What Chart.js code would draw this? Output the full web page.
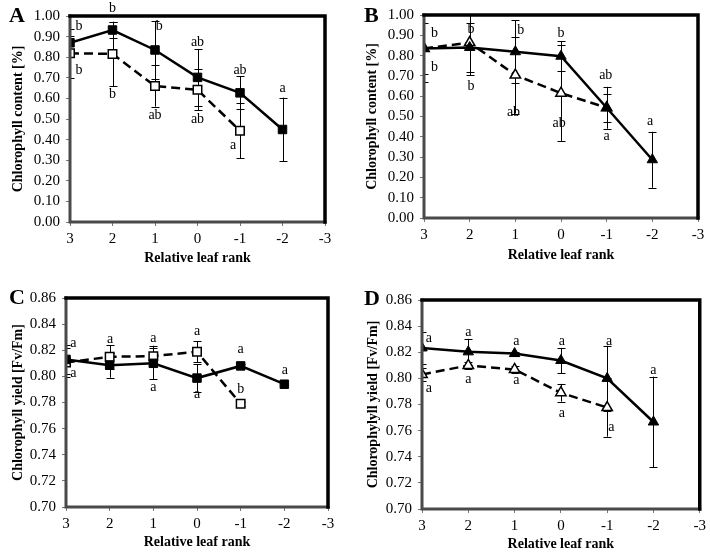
<!DOCTYPE html>
<html>
<head>
<meta charset="utf-8">
<script src="https://cdn.jsdelivr.net/npm/chart.js@4.4.0/dist/chart.umd.min.js"></script>
<style>
  body { margin: 0; background: #fff; width: 710px; height: 553px; position: relative; overflow: hidden; }
  canvas { position: absolute; }
  .tag { position: absolute; font: bold 22px "Liberation Serif", serif; color: #000; }
</style>
</head>
<body>
<canvas id="chartA" width="345" height="270" style="left:0;top:0"></canvas>
<canvas id="chartB" width="355" height="270" style="left:355px;top:0"></canvas>
<canvas id="chartC" width="345" height="273" style="left:0;top:280px"></canvas>
<canvas id="chartD" width="355" height="273" style="left:355px;top:280px"></canvas>
<div class="tag" style="left:9px;top:2px">A</div>
<div class="tag" style="left:364px;top:2px">B</div>
<div class="tag" style="left:9px;top:284px">C</div>
<div class="tag" style="left:364px;top:285px">D</div>
<script>
// relative leaf ranks
const ranks = [3, 2, 1, 0, -1, -2];
const ranksShort = [3, 2, 1, 0, -1];

// A - chlorophyll content, squares
const aSolid = [0.870, 0.932, 0.835, 0.702, 0.627, 0.449];
const aSolidErr = [0.035, 0.040, 0.140, 0.138, 0.080, 0.155];
const aDashed = [0.819, 0.816, 0.660, 0.642, 0.443];
const aDashedErr = [0.120, 0.156, 0.100, 0.100, 0.133];
const aLetters = ['b', 'b', 'b', 'b', 'b', 'ab', 'ab', 'ab', 'ab', 'a', 'a'];
const aLetterRank = [2.79, 2.79, 2, 2, 0.9, 1, 0, 0, -1, -0.84, -2];
const aLetterVal = [0.95, 0.738, 1.037, 0.62, 0.952, 0.52, 0.87, 0.50, 0.735, 0.37, 0.65];

// B - chlorophyll content, triangles
const bSolid = [0.835, 0.840, 0.819, 0.797, 0.543, 0.287];
const bSolidErr = [0.127, 0.120, 0.155, 0.073, 0.103, 0.138];
const bDashed = [0.835, 0.864, 0.704, 0.615, 0.543];
const bDashedErr = [0.165, 0.160, 0.190, 0.235, 0.070];
const bLetters = ['b', 'b', 'b', 'b', 'b', 'ab', 'b', 'ab', 'ab', 'a', 'a'];
const bLetterRank = [2.77, 2.77, 1.97, 1.97, 0.88, 1.04, 0, 0.04, -0.98, -1, -1.95];
const bLetterVal = [0.912, 0.744, 0.928, 0.65, 0.923, 0.52, 0.912, 0.468, 0.703, 0.40, 0.475];

// C - chlorophyll yield, squares
const cSolid = [0.8130, 0.8085, 0.8100, 0.7987, 0.8080, 0.7940];
const cSolidErr = [0.011, 0.0095, 0.012, 0.0105, 0.0015, 0.0015];
const cDashed = [0.8106, 0.8150, 0.8155, 0.8188, 0.7790];
const cDashedErr = [0.011, 0.009, 0.008, 0.008, 0.0015];
const cLetters = ['a', 'a', 'a', 'a', 'a', 'a', 'a', 'a', 'b', 'a'];
const cLetterRank = [2.83, 2.83, 1.99, 1, 1, 0, 0, -1, -1, -2.01];
const cLetterVal = [0.8255, 0.802, 0.8286, 0.8294, 0.7918, 0.8344, 0.786, 0.8204, 0.7903, 0.805];

// D - chlorophyll yield, triangles
const dSolid = [0.8233, 0.8203, 0.8190, 0.8137, 0.8000, 0.7666];
const dSolidErr = [0.012, 0.010, 0.0015, 0.0096, 0.025, 0.0347];
const dDashed = [0.8030, 0.8099, 0.8068, 0.7890, 0.7777];
const dDashedErr = [0.005, 0.0025, 0.003, 0.0068, 0.0223];
const dLetters = ['a', 'a', 'a', 'a', 'a', 'a', 'a', 'a', 'a', 'a', 'a'];
const dLetterRank = [2.85, 2.85, 2, 2, 0.96, 0.96, -0.02, -0.02, -1.04, -1.09, -2];
const dLetterVal = [0.8307, 0.7925, 0.835, 0.7994, 0.8287, 0.7984, 0.8287, 0.7733, 0.8287, 0.7627, 0.8065];

const serif = '"Liberation Serif", "Times New Roman", serif';

function points(xs, ys) {
    return xs.map((x, i) => ({ x: x, y: ys[i] }));
}

// error bars + significance letters + heavy frame
const panelPlugin = {
    id: 'panelDeco',
    beforeDatasetsDraw(chart, args, opts) {
        const { ctx, chartArea, scales: { x, y } } = chart;
        ctx.save();
        ctx.beginPath();
        ctx.rect(chartArea.left, chartArea.top, chartArea.width, chartArea.height);
        ctx.clip();
        ctx.strokeStyle = '#000';
        ctx.lineWidth = 1;
        opts.errors.forEach(e => {
            e.xs.forEach((r, i) => {
                const px = Math.round(x.getPixelForValue(r)) + 0.5;
                const hi = y.getPixelForValue(e.ys[i] + e.err[i]);
                const lo = y.getPixelForValue(e.ys[i] - e.err[i]);
                ctx.beginPath();
                ctx.moveTo(px, hi); ctx.lineTo(px, lo);
                ctx.moveTo(px - 4, Math.round(hi) + 0.5); ctx.lineTo(px + 4, Math.round(hi) + 0.5);
                ctx.moveTo(px - 4, Math.round(lo) + 0.5); ctx.lineTo(px + 4, Math.round(lo) + 0.5);
                ctx.stroke();
            });
        });
        ctx.restore();
    },
    afterDraw(chart, args, opts) {
        const { ctx, chartArea: a, scales: { x, y } } = chart;
        ctx.save();
        ctx.font = '14px ' + serif;
        ctx.fillStyle = '#000';
        ctx.textAlign = 'center';
        ctx.textBaseline = 'middle';
        opts.letters.forEach((t, i) => {
            ctx.fillText(t, x.getPixelForValue(opts.letterRank[i]), y.getPixelForValue(opts.letterVal[i]));
        });
        ctx.lineCap = 'square';
        ctx.lineWidth = 3;
        ctx.strokeStyle = '#4a4a4a';
        ctx.beginPath();
        ctx.moveTo(a.left, a.top); ctx.lineTo(a.left, a.bottom); ctx.lineTo(a.right, a.bottom);
        ctx.stroke();
        ctx.strokeStyle = '#000';
        ctx.lineWidth = 3.5;
        ctx.beginPath();
        ctx.moveTo(a.left, a.top); ctx.lineTo(a.right, a.top); ctx.lineTo(a.right, a.bottom);
        ctx.stroke();
        ctx.restore();
    }
};

function panel(id, p) {
    new Chart(document.getElementById(id), {
        type: 'line',
        data: {
            datasets: [{
                data: points(ranks, p.solid),
                borderColor: '#000',
                borderWidth: 2.5,
                backgroundColor: '#000',
                pointStyle: p.marker,
                pointRadius: 6,
                pointBorderWidth: 1,
                pointBackgroundColor: '#000',
                tension: 0
            }, {
                data: points(ranksShort, p.dashed),
                borderColor: '#000',
                borderWidth: 2.5,
                borderDash: [9, 5],
                pointStyle: p.marker,
                pointRadius: 6,
                pointBorderWidth: 1.5,
                pointBackgroundColor: '#fff',
                tension: 0
            }]
        },
        options: {
            responsive: false,
            animation: false,
            layout: { padding: { left: 0, top: p.top, right: p.right, bottom: 0 } },
            plugins: {
                legend: { display: false },
                tooltip: { enabled: false },
                panelDeco: {
                    errors: [
                        { xs: ranks, ys: p.solid, err: p.solidErr },
                        { xs: ranksShort, ys: p.dashed, err: p.dashedErr }
                    ],
                    letters: p.letters, letterRank: p.letterRank, letterVal: p.letterVal
                }
            },
            scales: {
                x: {
                    type: 'linear',
                    reverse: true,
                    min: -3, max: 3,
                    afterFit: s => { s.height = p.xh; },
                    ticks: { stepSize: 1, autoSkip: false, padding: 4, color: '#000', font: { family: serif, size: 15 } },
                    grid: { drawOnChartArea: false, tickLength: 4, color: '#777' },
                    border: { display: false },
                    title: {
                        display: true, text: 'Relative leaf rank', color: '#000',
                        font: { family: serif, size: 14, weight: 'bold' },
                        padding: { top: 0, bottom: p.xpad }
                    }
                },
                y: {
                    min: p.ymin, max: p.ymax,
                    afterFit: s => { s.width = p.yw; },
                    ticks: {
                        stepSize: p.step, autoSkip: false, maxTicksLimit: 30, padding: 6, color: '#000',
                        font: { family: serif, size: 15 },
                        callback: v => v.toFixed(2)
                    },
                    grid: { drawOnChartArea: false, tickLength: 4, color: '#777' },
                    border: { display: false },
                    title: {
                        display: true, text: p.ytitle, color: '#000',
                        font: { family: serif, size: 14, weight: 'bold' },
                        padding: { top: p.ypad, bottom: 4 }
                    }
                }
            }
        },
        plugins: [panelPlugin]
    });
}

panel('chartA', {
    solid: aSolid, solidErr: aSolidErr, dashed: aDashed, dashedErr: aDashedErr,
    letters: aLetters, letterRank: aLetterRank, letterVal: aLetterVal,
    marker: 'rect', ymin: 0, ymax: 1, step: 0.1, ytitle: 'Chlorophyll content [%]',
    top: 16, right: 20, xh: 48, yw: 70, xpad: 3, ypad: 10
});
panel('chartB', {
    solid: bSolid, solidErr: bSolidErr, dashed: bDashed, dashedErr: bDashedErr,
    letters: bLetters, letterRank: bLetterRank, letterVal: bLetterVal,
    marker: 'triangle', ymin: 0, ymax: 1, step: 0.1, ytitle: 'Chlorophyll content [%]',
    top: 10, right: 12, xh: 52, yw: 69, xpad: 6, ypad: 9
});
panel('chartC', {
    solid: cSolid, solidErr: cSolidErr, dashed: cDashed, dashedErr: cDashedErr,
    letters: cLetters, letterRank: cLetterRank, letterVal: cLetterVal,
    marker: 'rect', ymin: 0.70, ymax: 0.86, step: 0.02, ytitle: 'Chlorophyll yield [Fv/Fm]',
    top: 18, right: 17, xh: 46, yw: 66, xpad: 2, ypad: 10
});
panel('chartD', {
    solid: dSolid, solidErr: dSolidErr, dashed: dDashed, dashedErr: dDashedErr,
    letters: dLetters, letterRank: dLetterRank, letterVal: dLetterVal,
    marker: 'triangle', ymin: 0.70, ymax: 0.86, step: 0.02, ytitle: 'Chlorophylyll yield [Fv/Fm]',
    top: 20, right: 7, xh: 44, yw: 67, xpad: 0, ypad: 10
});
</script>
</body>
</html>
